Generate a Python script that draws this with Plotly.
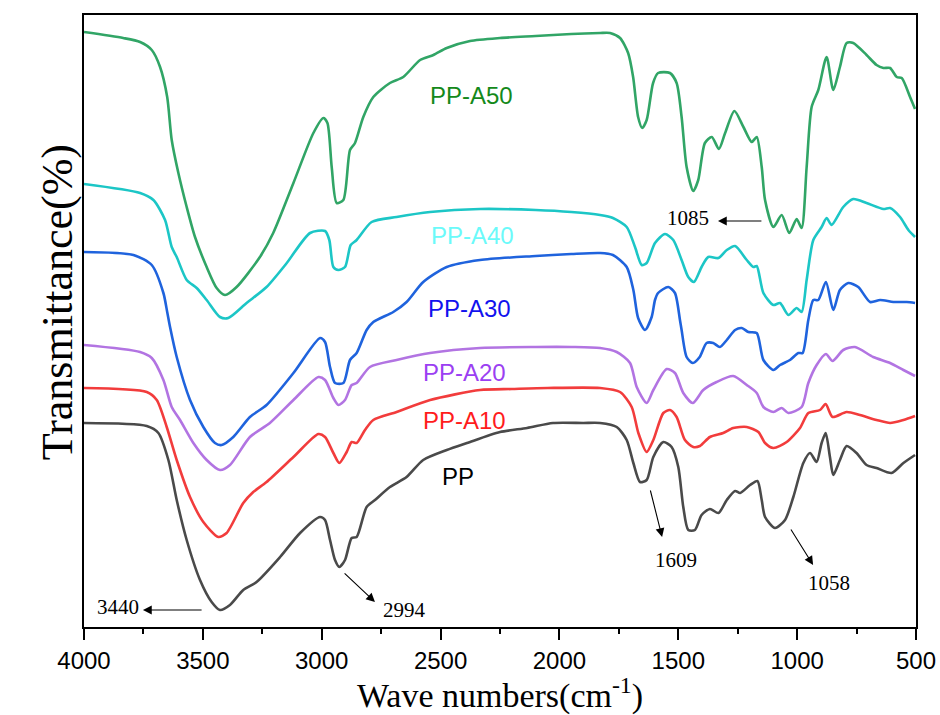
import plotly.graph_objects as go

# ---- data (wavenumber cm-1, offset transmittance a.u.) ----
wn_a50 = [4000,3835,3764,3715,3680,3650,3631,3603,3568,3533,3484,3442,3407,3358,3260,3204,3119,3035,2993,2976,
          2958,2937,2909,2881,2860,2825,2783,2713,2657,2586,2530,2474,2376,2250,2100,1950,1829,1787,1745,1711,
          1690,1669,1652,1633,1606,1585,1535,1507,1486,1465,1437,1416,1388,1359,1329,1303,1264,1226,1191,1170,
          1149,1135,1100,1065,1033,1002,981,960,939,911,876,848,820,792,764,708,666,637,609,581,560,525,504]
t_a50 = [595,589,585,577,560,530,487,454,420,390,360,339,332,340,370,394,444,494,509,504,
         460,424,427,477,484,510,530,544,550,567,572,579,586,589,591,593,594,594,589,574,
         550,510,499,507,544,554,554,544,510,460,436,447,484,490,478,494,516,500,485,490,
         460,427,400,412,394,408,399,460,520,537,570,537,560,584,584,572,562,559,559,550,549,530,518]

wn_a40 = [4000,3764,3708,3659,3631,3610,3568,3526,3484,3428,3393,3316,3232,3147,3049,2986,2968,2951,2930,2902,
          2878,2853,2790,2685,2544,2334,2100,1950,1829,1775,1717,1682,1654,1633,1598,1556,1521,1486,1458,1434,
          1402,1374,1331,1296,1261,1212,1184,1170,1142,1100,1072,1037,1002,981,960,932,897,876,855,806,
          764,708,637,609,567,532,504]
t_a40 = [443,434,427,407,380,370,347,339,327,310,309,324,340,364,394,396,387,360,357,360,
         382,387,405,410,415,418,417,415,412,409,400,380,362,364,384,393,387,367,350,345,
         360,370,369,377,381,367,360,361,334,322,324,312,319,315,347,387,400,409,402,420,
         428,424,418,419,410,397,390]

wn_a30 = [4000,3792,3715,3666,3650,3638,3610,3554,3498,3449,3421,3372,3302,3232,3119,3007,2986,2965,2944,2909,
          2881,2853,2811,2783,2699,2643,2573,2474,2334,2100,1950,1829,1775,1717,1689,1669,1640,1612,1598,1585,
          1542,1514,1493,1486,1465,1439,1410,1381,1353,1325,1296,1261,1233,1205,1170,1142,1100,1072,1030,995,
          977,953,932,911,879,848,820,785,743,693,651,595,539,504]
t_a30 = [375,372,362,334,315,300,270,227,200,184,182,190,210,222,254,289,285,260,244,244,
         267,274,297,305,315,325,345,360,367,371,373,374,372,360,337,309,297,310,327,334,
         340,334,307,297,270,264,270,284,284,280,287,297,299,295,294,267,257,262,267,274,
         274,307,327,327,345,317,337,344,340,325,327,325,325,324]

wn_a20 = [4000,3764,3715,3666,3631,3596,3540,3484,3428,3386,3302,3218,3119,3014,2986,2951,2930,2902,2874,2853,
          2797,2685,2544,2334,2100,1950,1829,1759,1703,1675,1633,1605,1549,1514,1479,1439,1395,1339,1269,1212,
          1170,1142,1100,1065,1037,981,953,918,879,851,806,757,680,609,553,504]
t_a20 = [282,275,269,247,220,207,184,167,157,162,190,204,227,250,247,229,222,227,242,244,
         260,267,274,279,280,280,279,275,264,240,224,237,258,254,234,224,237,245,251,242,
         234,220,215,219,214,220,244,262,273,266,277,280,270,264,257,251]

wn_a10 = [4000,3736,3694,3652,3610,3554,3498,3435,3400,3330,3288,3232,3119,3014,2986,2951,2926,2895,2874,2853,
          2818,2783,2685,2544,2334,2200,2050,1829,1745,1696,1668,1633,1605,1563,1535,1507,1472,1437,1409,1367,
          1311,1269,1212,1163,1135,1100,1044,988,953,904,880,851,792,736,666,609,553,504]
t_a10 = [239,235,227,200,167,130,105,90,94,124,135,145,170,193,190,174,164,175,185,184,
         197,207,215,227,237,238,239,239,235,220,194,175,187,214,217,210,187,180,181,190,
         194,199,200,195,184,179,185,199,214,217,223,210,215,212,207,204,207,211]

wn_pp = [4000,3736,3687,3645,3610,3568,3512,3463,3428,3386,3330,3274,3175,3091,3007,2986,2965,2944,2926,2902,
         2874,2853,2811,2776,2713,2643,2573,2474,2389,2250,2136,2027,1900,1829,1759,1717,1689,1661,1633,1605,
         1563,1528,1500,1479,1458,1430,1402,1367,1331,1296,1261,1240,1198,1167,1149,1135,1093,1051,1016,974,
         946,918,897,880,862,848,820,792,750,708,666,603,553,504]
t_pp = [204,201,194,167,127,87,47,25,17,22,37,45,70,94,110,107,87,67,60,67,
        89,90,120,127,140,150,167,177,184,195,199,204,204,204,200,187,164,145,147,170,
        185,180,160,120,97,97,112,118,114,127,136,134,142,146,127,110,99,107,130,164,
        174,165,184,194,170,152,167,181,174,162,159,154,164,172]

series_names = ["PP-A50", "PP-A40", "PP-A30", "PP-A20", "PP-A10", "PP"]
series_x = [wn_a50, wn_a40, wn_a30, wn_a20, wn_a10, wn_pp]
series_y = [t_a50, t_a40, t_a30, t_a20, t_a10, t_pp]
line_colors = ["#31a566", "#1cc6c6", "#1f63dd", "#b274e2", "#f23c3c", "#4a4a4a"]
label_colors = ["#14891a", "#6bfafa", "#1212ee", "#9b3ff2", "#ff1c1c", "#000000"]
label_x = [2368, 2364, 2380, 2399, 2401, 2427]
label_y = [532, 392, 319, 255, 207, 151]

# peak annotations: text, text position, arrow tail, arrow head
peak_text = ["3440", "2994", "1609", "1058", "1085"]
peak_text_x = [3857, 2650, 1510, 866, 1459]
peak_text_y = [20, 17, 67, 44, 409]
arrow_tail_x = [3499, 2910, 1619, 1030, 1144]
arrow_tail_y = [17, 55, 138, 99, 406]
arrow_head_x = [3752, 2776, 1568, 933, 1333]
arrow_head_y = [17, 25, 90, 62, 406]

x_ticks = [4000, 3500, 3000, 2500, 2000, 1500, 1000, 500]

SERIF = "Liberation Serif, Times New Roman, serif"
SANS = "Liberation Sans, Arial, sans-serif"

fig = go.Figure()
for name, xs, ys, c in zip(series_names, series_x, series_y, line_colors):
    fig.add_trace(go.Scatter(x=xs, y=ys, mode="lines", name=name,
                             line=dict(color=c, width=2.6, shape="spline", smoothing=0.7)))

annotations = []
for name, lx, ly, c in zip(series_names, label_x, label_y, label_colors):
    annotations.append(dict(x=lx, y=ly, xref="x", yref="y", text=name, showarrow=False,
                            font=dict(family=SANS, size=24, color=c)))
for t, tx, ty in zip(peak_text, peak_text_x, peak_text_y):
    annotations.append(dict(x=tx, y=ty, xref="x", yref="y", text=t, showarrow=False,
                            font=dict(family=SERIF, size=21, color="black")))
for ax, ay, hx, hy in zip(arrow_tail_x, arrow_tail_y, arrow_head_x, arrow_head_y):
    annotations.append(dict(x=hx, y=hy, xref="x", yref="y", ax=ax, ay=ay, axref="x", ayref="y",
                            text="", showarrow=True, arrowhead=2, arrowsize=1.6, arrowwidth=1.1,
                            arrowcolor="black"))
annotations.append(dict(x=-0.0637, y=0.53, xref="paper", yref="paper", text="Transmittance(%)",
                        textangle=-90, showarrow=False,
                        font=dict(family=SERIF, size=44, color="black")))

fig.update_layout(
    width=940, height=715,
    margin=dict(l=84, r=24, t=15, b=88, autoexpand=False),
    plot_bgcolor="white", paper_bgcolor="white",
    showlegend=False,
    annotations=annotations,
    xaxis=dict(range=[4000, 500], tickvals=x_ticks, ticktext=[str(v) for v in x_ticks],
               automargin=False,
               ticks="outside", ticklen=11, tickwidth=2, tickcolor="black",
               minor=dict(tickvals=[3750, 3250, 2750, 2250, 1750, 1250, 750], ticks="outside",
                          ticklen=5, tickwidth=2, tickcolor="black"),
               showline=True, linewidth=2, linecolor="black", mirror=True,
               showgrid=False, zeroline=False,
               tickfont=dict(family=SANS, size=24, color="black"),
               title=dict(text="Wave numbers(cm<sup>-1</sup>)", standoff=6,
                          font=dict(family=SERIF, size=34, color="black"))),
    yaxis=dict(range=[0, 612], showticklabels=False, ticks="", showgrid=False, zeroline=False,
               automargin=False,
               showline=True, linewidth=2, linecolor="black", mirror=True),
)

fig.write_html("out.html")
